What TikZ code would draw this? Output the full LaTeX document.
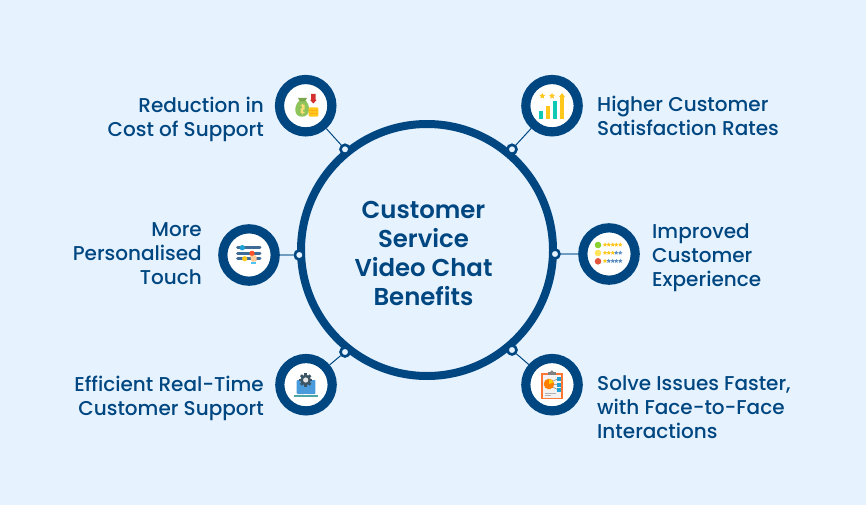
\documentclass[tikz,border=0pt]{standalone}
\usepackage{fontspec}
\setmainfont{Poppins}[UprightFont={* Medium},BoldFont={* SemiBold}]
\definecolor{bgc}{HTML}{E6F3FF}
\definecolor{navy}{HTML}{004680}
\definecolor{linkc}{HTML}{6F9DC2}
\definecolor{grn}{HTML}{8FC45A}
\definecolor{gold}{HTML}{FFC61B}
\definecolor{teal2}{HTML}{0FC9B5}
\definecolor{redc}{HTML}{D32F2F}
\definecolor{steel}{HTML}{3F6C96}
\definecolor{starblue}{HTML}{5C8FC0}
\definecolor{facegreen}{HTML}{8BD12F}
\definecolor{faceyellow}{HTML}{FFE45C}
\definecolor{facered}{HTML}{E2573B}
\definecolor{laptopblue}{HTML}{4A9BDC}
\definecolor{gearc}{HTML}{3B5564}
\tikzset{
 hub/.style={circle,draw=navy,line width=8pt,fill=none,minimum size=252pt,inner sep=0pt},
 iconring/.style={circle,draw=navy,line width=9.2pt,fill=white,minimum size=52.4pt,inner sep=0pt},
 dotnode/.style={circle,draw=navy,line width=2.6pt,fill=bgc,minimum size=9pt,inner sep=0pt},
 link/.style={draw=navy,line width=1pt},
 linkthick/.style={draw=linkc,line width=1.4pt},
 lbl/.style={text=navy,font=\fontsize{20}{24}\selectfont,inner sep=0pt},
 lblr/.style={lbl,align=left,anchor=west},
 lbll/.style={lbl,align=right,anchor=east},
 title/.style={text=navy,font=\fontsize{24.4}{29}\selectfont\bfseries,align=center,inner sep=0pt}
}
\newcommand{\istar}[4]{\fill[#4,shift={(#1,#2)}] (-90:#3) -- (-54:#3*.45) -- (-18:#3) -- (18:#3*.45) -- (54:#3) -- (90:#3*.45) -- (126:#3) -- (162:#3*.45) -- (198:#3) -- (234:#3*.45) -- cycle;}
\begin{document}
\begin{tikzpicture}[x=1pt,y=-1pt]
\useasboundingbox (0,0) rectangle (866,505);
\fill[bgc] (0,0) rectangle (866,505);
\node[hub] (main) at (427,250) {};
\node[title] (t) at (423.5,253) {Customer\\Service\\Video Chat\\Benefits};
% rings
\node[iconring] (tl) at (305.7,105.7) {};
\node[iconring] (tr) at (552,105.7) {};
\node[iconring] (ml) at (249,255) {};
\node[iconring] (mr) at (609,254) {};
\node[iconring] (bl) at (306,384.7) {};
\node[iconring] (br) at (552,384.7) {};
% dots
\node[dotnode] (dtl) at (345,149.3) {};
\node[dotnode] (dtr) at (512,149.3) {};
\node[dotnode] (dml) at (299.3,255) {};
\node[dotnode] (dmr) at (555,254) {};
\node[dotnode] (dbl) at (345,352) {};
\node[dotnode] (dbr) at (512,350) {};
% connectors
\draw[link] (tl) -- (dtl);
\draw[link] (tr) -- (dtr);
\draw[linkthick] (ml) -- (dml);
\draw[linkthick] (mr) -- (dmr);
\draw[link] (bl) -- (dbl);
\draw[link] (br) -- (dbr);
% labels
\node[lbll] (l1) at (264,119) {Reduction in\\Cost of Support};
\node[lbll] (l2) at (202,254) {More\\Personalised\\Touch};
\node[lbll] (l3) at (264,398) {Efficient Real-Time\\Customer Support};
\node[lblr] (r1) at (597,116) {Higher Customer\\Satisfaction Rates};
\node[lblr] (r2) at (652,258) {Improved\\Customer\\Experience};
\node[lblr] (r3) at (597,407) {Solve Issues Faster,\\with Face-to-Face\\Interactions};
% icon: money
\fill[grn] (299.5,100.5) .. controls (294,105) and (293,116.7) .. (302,116.7) .. controls (311,116.7) and (310.5,105) .. (305.5,100.5) -- cycle;
\fill[grn!85!black] (298,98) -- (307,98) -- (305,101.5) -- (300,101.5) -- cycle;
\fill[gold!60!white] (300.5,105) rectangle (304.5,106.2) (303.2,106.2) rectangle (304.5,108.5) (300.5,108.5) rectangle (304.5,109.7) (300.5,109.7) rectangle (301.8,112) (300.5,112) rectangle (304.5,113.2) (302,103.8) rectangle (303,114.4);
\fill[gold,rounded corners=1.2pt] (308.7,107.3) rectangle (318.3,116.7);
\draw[gold!70!orange,line width=.5pt] (308.7,110.4) -- (318.3,110.4) (308.7,113.5) -- (318.3,113.5);
\fill[redc] (311,94) rectangle (315.6,100) (310,99.8) -- (316.8,99.8) -- (313.3,103.5) -- cycle;
% icon: chart
\fill[teal2] (539,111) rectangle (543.3,119);
\fill[gold] (546,106) rectangle (550.3,119);
\fill[teal2] (553,101.3) rectangle (557.3,119);
\fill[gold] (560,97) rectangle (564,119);
\fill[gold] (559,97) -- (562,93) -- (565,97) -- cycle;
\istar{542.3}{96}{3.2}{gold}
\istar{552}{96}{3.2}{gold}
% icon: sliders
\foreach \yy in {247.8,253.2,258.5}{\draw[steel,line width=3pt,line cap=round] (237.5,\yy) -- (260,\yy);}
\fill[cyan!70!teal] (242.3,247.7) circle (2.7);
\fill[gold] (244.7,258.7) circle (2.6);
\fill[orange!40!white,rounded corners=1pt] (250,254.5) -- (253.5,254) -- (256.8,256.5) -- (256.5,261.7) -- (251.3,261.7) -- cycle;
\fill[red!60!orange!85!white] (252,253.3) circle (2.6);
\fill[cyan!70!white] (251.3,261.7) rectangle (256,263.7);
% icon: ratings
\fill[facegreen] (598,245) circle (3.3);
\fill[faceyellow] (598,253) circle (3.3);
\fill[facered] (598,261.3) circle (3.3);
\foreach \xx in {605,608.7,612.7,616.3,620.3}{\istar{\xx}{244.7}{2.3}{gold}}
\foreach \xx in {605,608.7,612.7}{\istar{\xx}{252.8}{2.3}{gold}}
\foreach \xx in {616.3,620.3}{\istar{\xx}{252.8}{2.3}{starblue}}
\istar{605}{261}{2.3}{gold}
\foreach \xx in {608.7,612.7,616.3,620.3}{\istar{\xx}{261}{2.3}{starblue}}
% icon: laptop
\fill[laptopblue,rounded corners=.8pt] (296.7,380) rectangle (315.3,394);
\fill[teal!70!white] (294,394.7) rectangle (318,397);
\fill[white] (303.5,394) rectangle (308,394.9);
\foreach \a in {0,45,...,315}{\fill[rotate around={\a:(305.7,380)},gearc] (304.4,373.3) rectangle (307,376);}
\fill[gearc] (305.7,380) circle (5.4);
\fill[black!10!white] (305.7,380) circle (2.6);
% icon: clipboard
\fill[orange!65!red!80!white] (540.7,372.7) rectangle (563.3,399.3);
\fill[black!5!white] (543.3,375.3) rectangle (561.3,397.7);
\fill[gray] (547.7,372) rectangle (556,374.5);
\fill[gray] (551.8,371.8) circle (1.5);
\fill[orange] (549,384) circle (5.3);
\fill[yellow!70!orange] (549,384) -- (549,379.2) arc (-90:-20:4.8) -- cycle;
\draw[gray,line width=.5pt] (553,381) -- (558,378.7) (554,384.7) -- (558,384.7) (553,387) -- (558,390);
\foreach \yy in {378.7,384.7,390}{\fill[cyan!70!teal] (556.9,\yy-1.8) rectangle (560.5,\yy+1.8);}
\draw[gray!60,line width=.5pt] (545,393.3) -- (556,393.3) (545,395.4) -- (551,395.4);
\end{tikzpicture}
\end{document}
